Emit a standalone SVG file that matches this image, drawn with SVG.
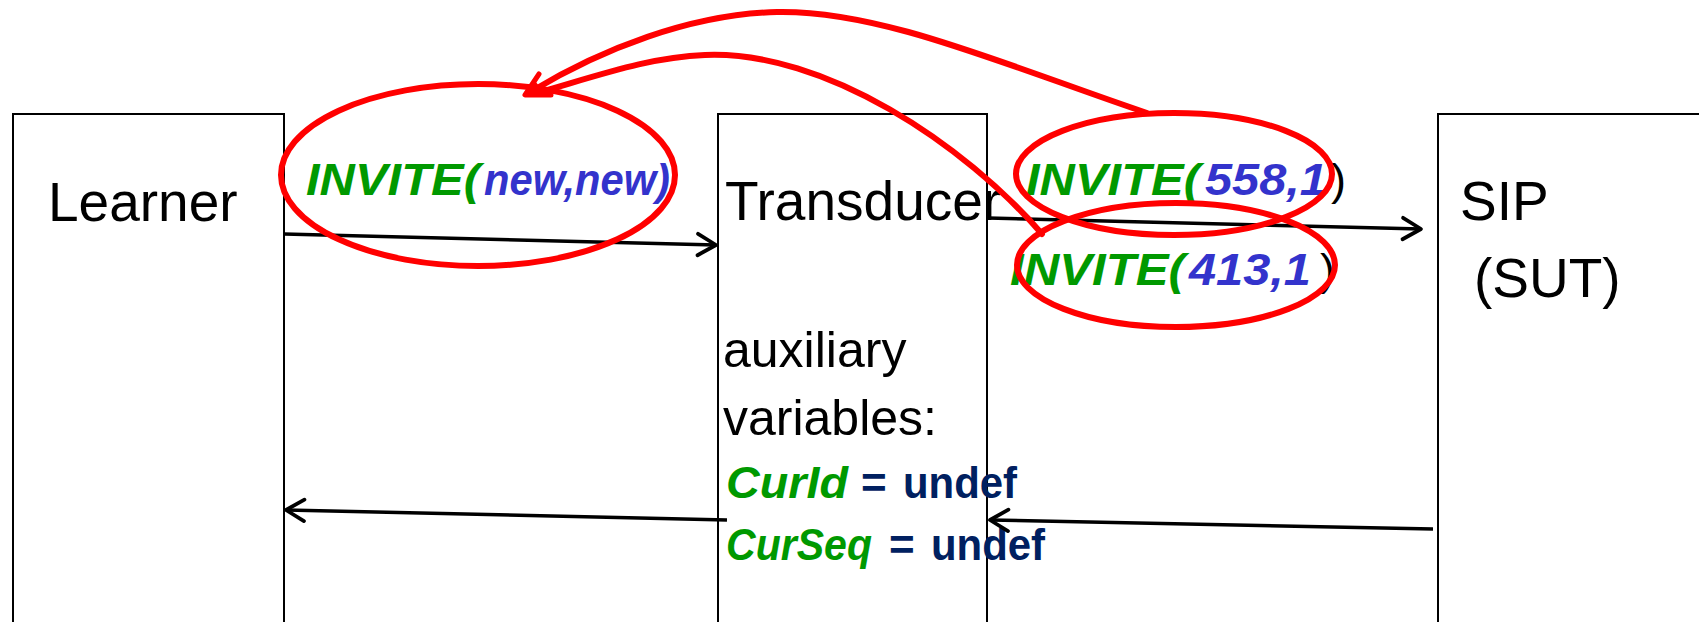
<svg xmlns="http://www.w3.org/2000/svg" width="1699" height="622" viewBox="0 0 1699 622">
  <style>
    .box { fill: none; stroke: #000; stroke-width: 2; }
    .lbl { font-family: "Liberation Sans", "DejaVu Sans", sans-serif; font-size: 55px; fill: #000; }
    .aux { font-family: "Liberation Sans", "DejaVu Sans", sans-serif; font-size: 50px; fill: #000; }
    .var { font-family: "Liberation Sans", "DejaVu Sans", sans-serif; font-size: 44px; font-weight: bold; }
    .msg { font-family: "Liberation Sans", "DejaVu Sans", sans-serif; font-size: 45px; font-weight: bold; font-style: italic; }
    .g { fill: #009900; font-style: italic; }
    .b { fill: #3333cc; }
    .n { fill: #002060; font-style: normal; }
    .k { fill: #000; font-style: normal; font-weight: normal; }
    .flow { fill: none; stroke: #000; stroke-width: 3.5; }
    .ring { fill: none; stroke: #ff0000; stroke-width: 6; }
    .link { fill: none; stroke: #ff0000; stroke-width: 6; stroke-linecap: round; }
  </style>
  <defs>
    <marker id="open" markerUnits="userSpaceOnUse" markerWidth="30" markerHeight="30" viewBox="-22 -14 26 28" refX="0" refY="0" orient="auto" overflow="visible">
      <path d="M -17 -10 L 0 0 L -17 10" fill="none" stroke="#000" stroke-width="3.5" stroke-linecap="round" stroke-linejoin="round"/>
    </marker>
  </defs>

  <rect width="1699" height="622" fill="#fff"/>

  <!-- Learner -->
  <g id="learner">
    <rect class="box" x="13" y="114" width="271" height="530"/>
    <text class="lbl" x="48" y="221">Learner</text>
  </g>

  <!-- Transducer with its auxiliary variables -->
  <g id="transducer">
    <rect class="box" x="718" y="114" width="269" height="530"/>
    <text class="lbl" x="725" y="220">Transducer</text>
    <text class="aux" x="723" y="367">auxiliary</text>
    <text class="aux" x="723" y="435">variables:</text>
    <text class="var" y="498"><tspan class="g" x="726" textLength="122" lengthAdjust="spacingAndGlyphs">CurId</tspan><tspan class="n" x="861">=</tspan><tspan class="n" x="903" textLength="114" lengthAdjust="spacingAndGlyphs">undef</tspan></text>
    <text class="var" y="560"><tspan class="g" x="726" textLength="146" lengthAdjust="spacingAndGlyphs">CurSeq</tspan><tspan class="n" x="889">=</tspan><tspan class="n" x="931" textLength="114" lengthAdjust="spacingAndGlyphs">undef</tspan></text>
  </g>

  <!-- System under test -->
  <g id="sip">
    <rect class="box" x="1438" y="114" width="300" height="530"/>
    <text class="lbl" x="1460" y="220">SIP</text>
    <text class="lbl" x="1474" y="297">(SUT)</text>
  </g>

  <!-- Message labels -->
  <g id="msg-abstract">
    <text class="msg" y="195"><tspan class="g" x="306" textLength="174" lengthAdjust="spacingAndGlyphs">INVITE(</tspan><tspan class="b" x="484" textLength="186" lengthAdjust="spacingAndGlyphs">new,new)</tspan></text>
  </g>
  <g id="msg-concrete-1">
    <text class="msg" y="195"><tspan class="g" x="1026" textLength="174" lengthAdjust="spacingAndGlyphs">INVITE(</tspan><tspan class="b" x="1205" textLength="122" lengthAdjust="spacingAndGlyphs">558,1</tspan><tspan class="k" x="1331">)</tspan></text>
  </g>
  <g id="msg-concrete-2">
    <text class="msg" y="285"><tspan class="g" x="1010" textLength="175" lengthAdjust="spacingAndGlyphs">INVITE(</tspan><tspan class="b" x="1189" textLength="122" lengthAdjust="spacingAndGlyphs">413,1</tspan><tspan class="k" x="1320">)</tspan></text>
  </g>

  <!-- Connectors -->
  <g id="connectors">
    <path class="flow" d="M 284 234 L 716 245" marker-end="url(#open)"/>
    <path class="flow" d="M 988 218 L 1421 229" marker-end="url(#open)"/>
    <path class="flow" d="M 1433 529 L 990 520" marker-end="url(#open)"/>
    <path class="flow" d="M 727 520 L 286 510" marker-end="url(#open)"/>

    <!-- highlight rings -->
    <ellipse class="ring" cx="478" cy="175" rx="197" ry="91"/>
    <ellipse class="ring" cx="1174" cy="174" rx="158" ry="61"/>
    <ellipse class="ring" cx="1176" cy="265" rx="159" ry="62"/>

    <!-- mapping links back to the abstract message -->
    <path class="link" d="M 1147 113 C 1000 63 880 10 777 12 C 690 14 600 50 532 91"/>
    <path class="link" d="M 1042 234 C 965 145 825 50 705 55 C 650 57 600 75 537 93"/>
    <path d="M 539 74 L 525 95 L 551 95" fill="none" stroke="#ff0000" stroke-width="5" stroke-linecap="round" stroke-linejoin="round"/>
    <path d="M 527 93 L 535 81 L 545 93 Z" fill="#ff0000"/>
  </g>
</svg>
